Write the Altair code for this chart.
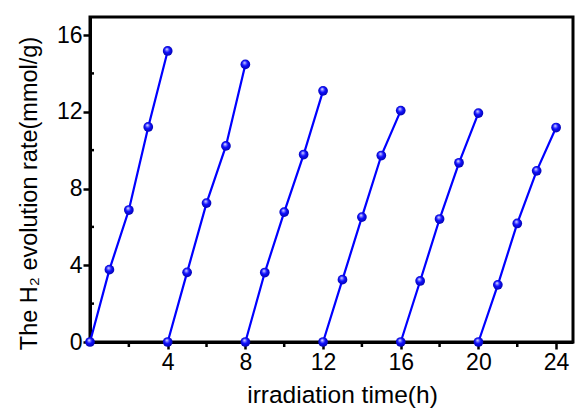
import altair as alt
import pandas as pd

# Six consecutive 4-hour irradiation runs, H2 evolved (mmol/g)
time_h = [0, 1, 2, 3, 4,
          4, 5, 6, 7, 8,
          8, 9, 10, 11, 12,
          12, 13, 14, 15, 16,
          16, 17, 18, 19, 20,
          20, 21, 22, 23, 24]
h2_amount = [0, 3.77, 6.88, 11.21, 15.17,
             0, 3.63, 7.24, 10.22, 14.47,
             0, 3.62, 6.77, 9.77, 13.09,
             0, 3.25, 6.51, 9.72, 12.06,
             0, 3.18, 6.41, 9.34, 11.93,
             0, 2.98, 6.18, 8.92, 11.18]
run = [1] * 5 + [2] * 5 + [3] * 5 + [4] * 5 + [5] * 5 + [6] * 5

x_major = [4, 8, 12, 16, 20, 24]
x_minor = [2, 6, 10, 14, 18, 22]
y_major = [0, 4, 8, 12, 16]
y_minor = [2, 6, 10, 14]

W, H = 483, 325
LEFT, TOP = 90, 17
FONT = "Liberation Sans"

df = pd.DataFrame({"t": time_h, "h2": h2_amount, "run": run})

x_scale = alt.Scale(domain=[0, 24.87], nice=False, zero=False)
y_scale = alt.Scale(domain=[0, 16.94], nice=False, zero=False)

x_axis = alt.Axis(
    values=x_major, title="irradiation time(h)", grid=False,
    tickSize=7, tickWidth=2.5, tickColor="black",
    domainWidth=3, domainColor="black",
    labelFont=FONT, labelFontSize=23, labelColor="black",
    labelPadding=2, labelBaseline="top",
    titleFont=FONT, titleFontSize=24.5, titleFontWeight="normal",
    titleColor="black", titleX=252, titleY=60, titleBaseline="alphabetic",
    titleAlign="center",
)
y_axis = alt.Axis(
    values=y_major, title="The H₂ evolution rate(mmol/g)", grid=False,
    tickSize=7, tickWidth=2.5, tickColor="black",
    domainWidth=3, domainColor="black",
    labelFont=FONT, labelFontSize=23, labelColor="black", labelPadding=1,
    titleFont=FONT, titleFontSize=23.5, titleFontWeight="normal",
    titleColor="black", titleX=-54, titleY=176, titleBaseline="alphabetic",
    titleAlign="center", titleAngle=270,
)

lines = alt.Chart(df).mark_line(color="#0000ff", strokeWidth=2.2).encode(
    x=alt.X("t:Q", scale=x_scale, axis=x_axis),
    y=alt.Y("h2:Q", scale=y_scale, axis=y_axis),
    detail="run:N",
)

sphere = alt.RadialGradient(
    gradient="radial",
    x1=0.4, y1=0.3, r1=0.0,
    x2=0.5, y2=0.5, r2=0.6,
    stops=[
        alt.GradientStop(offset=0.0, color="#ffffff"),
        alt.GradientStop(offset=0.18, color="#8c8cff"),
        alt.GradientStop(offset=0.45, color="#1010ff"),
        alt.GradientStop(offset=1.0, color="#00009a"),
    ],
)

points = alt.Chart(df).mark_circle(size=95, opacity=1, fill=sphere).encode(
    x="t:Q",
    y="h2:Q",
)

x_minor_ticks = alt.Chart(pd.DataFrame({"t": x_minor})).mark_rule(
    color="black", strokeWidth=2.5
).encode(x="t:Q", y=alt.value(H), y2=alt.value(H + 5))

y_minor_ticks = alt.Chart(pd.DataFrame({"h2": y_minor})).mark_rule(
    color="black", strokeWidth=2.5
).encode(y="h2:Q", x=alt.value(0), x2=alt.value(4))

chart = (
    alt.layer(lines, points, x_minor_ticks, y_minor_ticks)
    .properties(
        width=W, height=H,
        autosize=alt.AutoSizeParams(type="none"),
        padding={"left": LEFT, "top": TOP,
                 "right": 576 - LEFT - W, "bottom": 408 - TOP - H},
        background="white",
    )
    .configure_view(stroke="black", strokeWidth=3)
)

chart.save("out.html", embed_options={"renderer": "svg", "actions": False})
